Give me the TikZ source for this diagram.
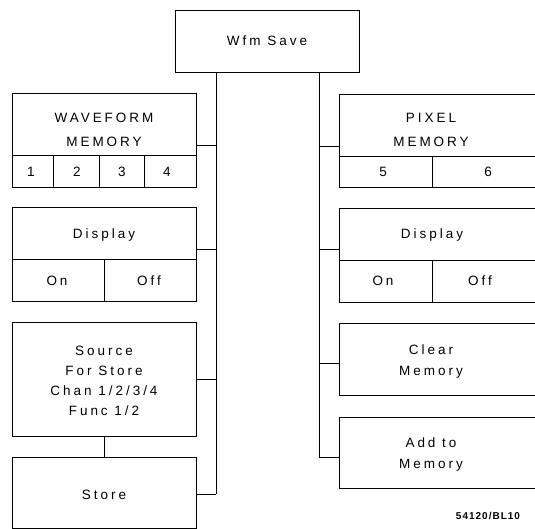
\documentclass[tikz,border=0pt]{standalone}
\usepackage{fontspec}
\setmainfont{Liberation Sans}
\newfontfamily\plotfont[LetterSpace=22]{Liberation Sans}
\newfontfamily\tagfont[LetterSpace=10]{Liberation Sans}
\begin{document}
\begin{tikzpicture}[x=1pt,y=-1pt,
  every node/.style={inner sep=0pt,outer sep=0pt},
  box/.style={draw=black,line width=0.7pt,rectangle},
  txt/.style={font=\plotfont\fontsize{13.5}{16}\selectfont,align=center},
  link/.style={draw=black,line width=0.7pt}]
\useasboundingbox (0,0) rectangle (535,529);
% top
\node[box,minimum width=184,minimum height=62] (save) at (267,41) {};
\node[txt] (tsave) at (267,41) {Wfm Save};
% ---------- left column
\node[box,minimum width=184,minimum height=62] (wm) at (104,124) {};
\node[txt,align=center] (twm) at (104,130) {WAVEFORM\\[8pt]MEMORY};
\node[box,minimum width=41,minimum height=32] (c1) at (32.5,171) {};
\node[box,minimum width=46,minimum height=32] (c2) at (76,171) {};
\node[box,minimum width=45,minimum height=32] (c3) at (121.5,171) {};
\node[box,minimum width=52,minimum height=32] (c4) at (170,171) {};
\node[txt] (t1) at (31,172) {1};
\node[txt] (t2) at (77,172) {2};
\node[txt] (t3) at (122,172) {3};
\node[txt] (t4) at (167,172) {4};

\node[box,minimum width=184,minimum height=52] (dl) at (104,233) {};
\node[txt] (tdl) at (104,235) {Display};
\node[box,minimum width=92,minimum height=42] (onl) at (58,280) {};
\node[box,minimum width=92,minimum height=42] (offl) at (150,280) {};
\node[txt] (tonl) at (57,281) {On};
\node[txt] (toffl) at (149,281) {Off};

\node[box,minimum width=184,minimum height=114] (src) at (104,379) {};
\node[txt] (tsrc) at (104,381) {Source\\[4pt]For Store\\[4pt]Chan 1/2/3/4\\[4pt]Func 1/2};

\node[box,minimum width=184,minimum height=71] (store) at (104,492.5) {};
\node[txt] (tstore) at (104,495) {Store};

% ---------- right column
\node[box,minimum width=200,minimum height=62] (pm) at (439,125) {};
\node[txt] (tpm) at (431,130) {PIXEL\\[8pt]MEMORY};
\node[box,minimum width=93,minimum height=31] (c5) at (385.5,171.5) {};
\node[box,minimum width=107,minimum height=31] (c6) at (485.5,171.5) {};
\node[txt] (t5) at (383,172) {5};
\node[txt] (t6) at (488,172) {6};

\node[box,minimum width=200,minimum height=52] (dr) at (439,234) {};
\node[txt] (tdr) at (432,235) {Display};
\node[box,minimum width=93,minimum height=42] (onr) at (385.5,281) {};
\node[box,minimum width=107,minimum height=42] (offr) at (485.5,281) {};
\node[txt] (tonr) at (383,281) {On};
\node[txt] (toffr) at (480,281) {Off};

\node[box,minimum width=200,minimum height=72] (clr) at (439,359) {};
\node[txt] (tclr) at (431,362) {Clear\\[5pt]Memory};

\node[box,minimum width=200,minimum height=71] (add) at (439,452.5) {};
\node[txt] (tadd) at (431,455) {Add to\\[5pt]Memory};

\node[font=\tagfont\bfseries\fontsize{10}{11}\selectfont] (tag) at (488,516) {54120/BL10};

% ---------- connectors
\coordinate (lt) at (216,72);
\coordinate (lb) at (216,494);
\coordinate (rt) at (319,72);
\coordinate (rb) at (319,457);
\draw[link] (lt) -- (lb);
\draw[link] (rt) -- (rb);
\draw[link] (wm.east |- 0,145) -- (216,145);
\draw[link] (dl.east) ++(0,16) -- (216,249);
\draw[link] (src.east) -- (216,379);
\draw[link] (store.east |- 0,494) -- (lb);
\draw[link] (pm.west |- 0,146) -- (319,146);
\draw[link] (dr.west |- 0,249) -- (319,249);
\draw[link] (clr.west |- 0,363) -- (319,363);
\draw[link] (add.west |- 0,457) -- (rb);
\draw[link] (src.south) -- (store.north);
\end{tikzpicture}
\end{document}
